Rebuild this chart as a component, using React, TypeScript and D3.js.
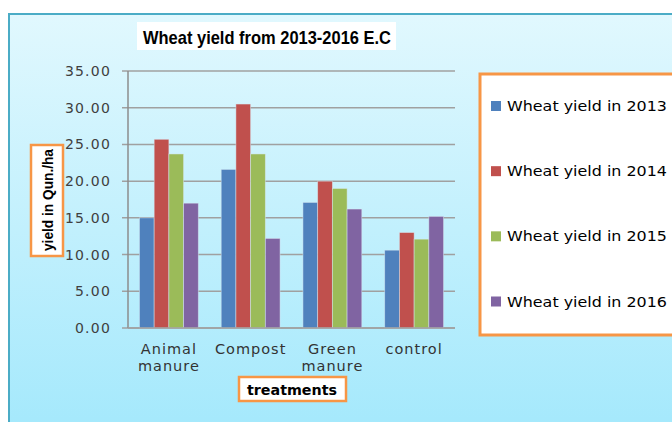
import React from "react";
import * as d3 from "d3";

const categories = [["Animal", "manure"], ["Compost"], ["Green", "manure"], ["control"]];
const seriesNames = ["Wheat yield in 2013", "Wheat yield in 2014", "Wheat yield in 2015", "Wheat yield in 2016"];
const y2013 = [15.0, 21.6, 17.1, 10.6];
const y2014 = [25.7, 30.5, 20.0, 13.0];
const y2015 = [23.7, 23.7, 19.0, 12.1];
const y2016 = [17.0, 12.2, 16.2, 15.2];
const yTicks = [0, 5, 10, 15, 20, 25, 30, 35];
const colors = ["#4f81bd", "#c0504d", "#9bbb59", "#8064a2"];

const series = [y2013, y2014, y2015, y2016];

export default function App() {
  const width = 672;
  const height = 422;
  const left = 128;
  const right = 455;
  const top = 71;
  const bottom = 328;

  const x = d3
    .scaleBand()
    .domain(categories.map((c) => c.join(" ")))
    .range([left, right])
    .paddingInner(0.28)
    .paddingOuter(0.14);
  const xs = d3
    .scaleBand()
    .domain(seriesNames)
    .range([0, x.bandwidth()]);
  const y = d3.scaleLinear().domain([0, 35]).range([bottom, top]);

  const legendY = d3.scalePoint().domain(seriesNames).range([106, 301.5]);

  const font = "'DejaVu Sans', sans-serif";

  return (
    <svg
      width={width}
      height={height}
      style={{ position: "absolute", left: 0, top: 0 }}
    >
      <defs>
        <linearGradient id="bg" x1="0" y1="0" x2="0" y2="1">
          <stop offset="0" stopColor="#e1f8fe" />
          <stop offset="1" stopColor="#a2e8fc" />
        </linearGradient>
      </defs>
      <rect x={0} y={0} width={width} height={height} fill="#fff" />
      <rect x={9} y={14} width={width + 10} height={height + 10} fill="url(#bg)" stroke="#4bacc6" strokeWidth={2} />

      {/* title */}
      <rect x={137} y={22} width={259} height={28} fill="#fff" />
      <text x={267} y={43.5} textAnchor="middle" fontFamily="'Liberation Sans', sans-serif" fontWeight="bold" fontSize={19} textLength={248} lengthAdjust="spacingAndGlyphs" fill="#000">
        Wheat yield from 2013-2016 E.C
      </text>

      {/* grid + y ticks */}
      {yTicks.map((t) => (
        <g key={t}>
          <line x1={122} x2={right} y1={y(t)} y2={y(t)} stroke="#a0a0a0" strokeWidth={1.5} />
          <text x={111} y={y(t) + 5} textAnchor="end" fontFamily={font} fontSize={14} fill="#404040" letterSpacing={1.2}>
            {t.toFixed(2)}
          </text>
        </g>
      ))}
      <line x1={left} x2={left} y1={top} y2={bottom} stroke="#8c8c8c" strokeWidth={1.5} />

      {/* bars */}
      {categories.map((c, i) => (
        <g key={c.join(" ")} transform={`translate(${x(c.join(" "))},0)`}>
          {series.map((s, j) => (
            <rect
              key={j}
              x={xs(seriesNames[j])}
              y={y(s[i])}
              width={xs.bandwidth()}
              height={y(0) - y(s[i])}
              fill={colors[j]}
              stroke="#d8eaf4"
              strokeOpacity={0.6}
              strokeWidth={0.8}
            />
          ))}
          {c.map((line, k) => (
            <text key={line} x={x.bandwidth() / 2} y={354 + k * 17} textAnchor="middle" fontFamily={font} fontSize={14.5} fill="#333" letterSpacing={1}>
              {line}
            </text>
          ))}
        </g>
      ))}
      <line x1={left} x2={right} y1={bottom} y2={bottom} stroke="#a0a0a0" strokeWidth={1.5} />

      {/* y axis title */}
      <rect x={31} y={145} width={32} height={111} fill="#fff" stroke="#f79646" strokeWidth={2.5} />
      <text transform={`translate(53,200) rotate(-90)`} textAnchor="middle" fontFamily="'Liberation Sans', sans-serif" fontWeight="bold" fontSize={15} textLength={102} lengthAdjust="spacingAndGlyphs" fill="#000">
        yield in Qun./ha
      </text>

      {/* x axis title */}
      <rect x={239} y={377} width={107} height={24} fill="#fff" stroke="#f79646" strokeWidth={2.5} />
      <text x={292} y={394.5} textAnchor="middle" fontFamily={font} fontWeight="bold" fontSize={14} textLength={90} lengthAdjust="spacingAndGlyphs" fill="#000">
        treatments
      </text>

      {/* legend */}
      <rect x={480} y={74} width={220} height={261} fill="#fff" stroke="#f79646" strokeWidth={3} />
      {seriesNames.map((n, j) => (
        <g key={n}>
          <rect x={491} y={legendY(n)! - 5} width={10} height={10} fill={colors[j]} />
          <text x={507} y={legendY(n)! + 5} fontFamily={font} fontSize={14} fill="#000" textLength={160} lengthAdjust="spacingAndGlyphs">
            {n}
          </text>
        </g>
      ))}
    </svg>
  );
}
